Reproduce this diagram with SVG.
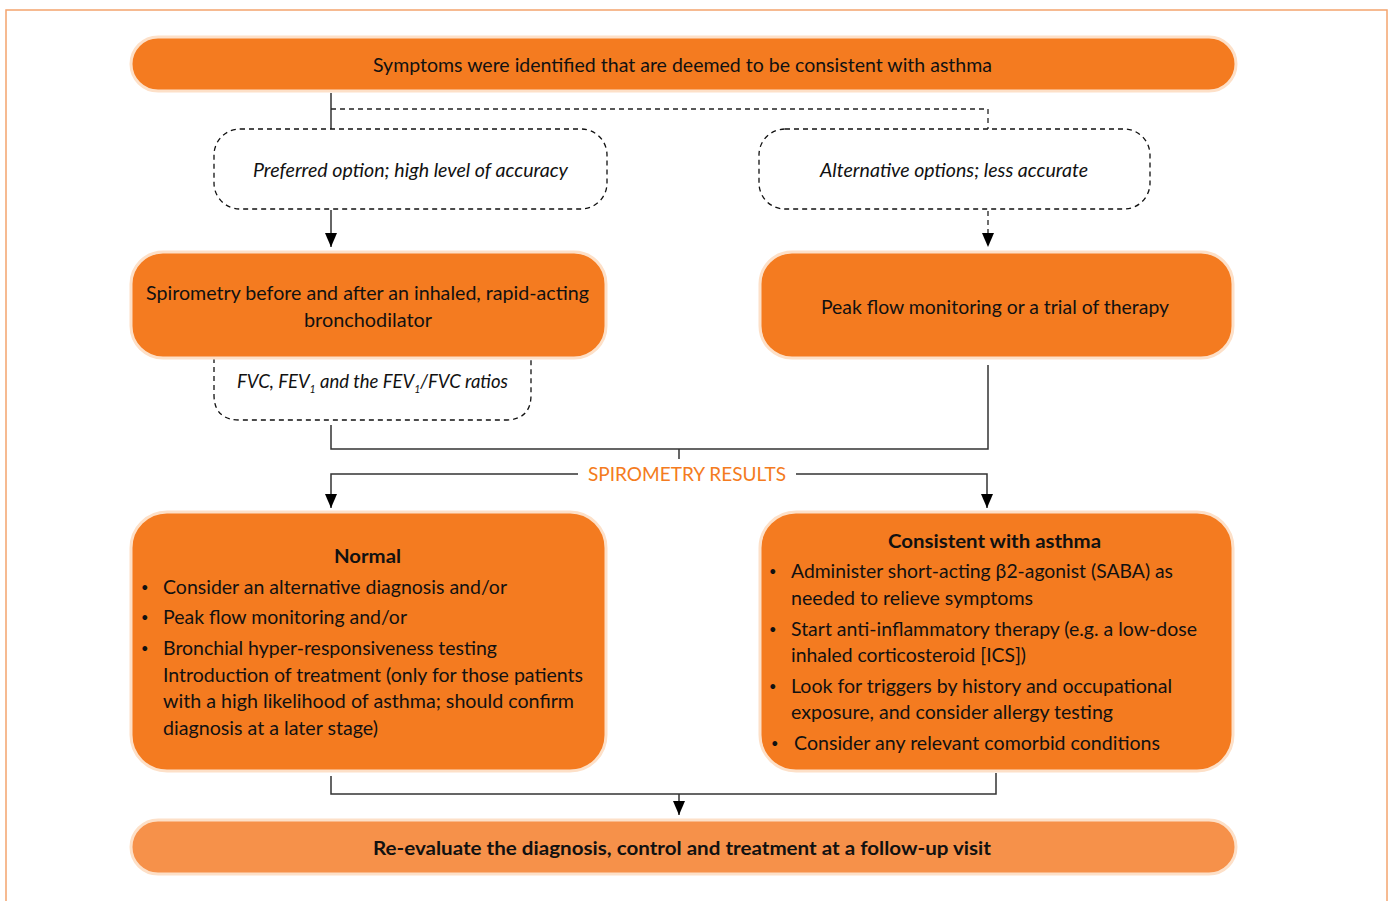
<svg xmlns="http://www.w3.org/2000/svg" width="1390" height="901" viewBox="0 0 1390 901">
<style>
text{font-family:Lato,"Open Sans","Liberation Sans",sans-serif;fill:#111;}
.t{font-size:19px;}
.b{font-size:19px;font-weight:bold;}
.i{font-size:19px;font-style:italic;}
.fv{font-size:18.5px;font-style:italic;}
.bu{font-size:13px;}
.node{fill:#f47b20;stroke:#fde0c8;stroke-width:3;}
.light{fill:#f6914a;stroke:#fde0c8;stroke-width:3;}
.dash{fill:none;stroke:#111;stroke-width:1.3;stroke-dasharray:5,4;}
.ln{fill:none;stroke:#333;stroke-width:1.5;}
.lnd{fill:none;stroke:#222;stroke-width:1.3;stroke-dasharray:5,4;}
.sr{font-size:19px;fill:#f47b20;}
.sub{font-size:10.5px;}
</style>
<defs>
<marker id="ah" markerWidth="14" markerHeight="12" refX="14" refY="6" orient="auto" markerUnits="userSpaceOnUse" viewBox="0 0 14 12">
<path d="M0,0 L14,6 L0,12 Z" fill="#000"/>
</marker>
</defs>
<rect x="6" y="10" width="1381" height="900" fill="none" stroke="#f4a46e" stroke-width="1.5"/>

<g id="connectors">
<line class="ln" x1="331" y1="93" x2="331" y2="129"/>
<path class="lnd" d="M331,109 H988 V129"/>
<line class="ln" x1="331" y1="210" x2="331" y2="247" marker-end="url(#ah)"/>
<line class="lnd" x1="988" y1="211" x2="988" y2="247" marker-end="url(#ah)"/>
<path class="ln" d="M331,425 V449 H988 V365"/>
<line class="ln" x1="679" y1="449" x2="679" y2="459"/>
<path class="ln" d="M578,474 H331 V508" marker-end="url(#ah)"/>
<path class="ln" d="M796,474 H987 V508" marker-end="url(#ah)"/>
<path class="ln" d="M331,776 V794 H996 V773"/>
<line class="ln" x1="679" y1="794" x2="679" y2="815" marker-end="url(#ah)"/>
</g>

<g id="top">
<rect class="node" x="131" y="37" width="1105" height="54" rx="27"/>
<text class="t" x="373" y="72" textLength="619" lengthAdjust="spacingAndGlyphs">Symptoms were identified that are deemed to be consistent with asthma</text>
</g>

<g id="preferred">
<rect class="dash" x="214" y="129" width="393" height="80" rx="26"/>
<text class="i" x="253" y="177" textLength="315" lengthAdjust="spacingAndGlyphs">Preferred option; high level of accuracy</text>
</g>

<g id="alternative">
<rect class="dash" x="759" y="129" width="391" height="80" rx="26"/>
<text class="i" x="820" y="177" textLength="268" lengthAdjust="spacingAndGlyphs">Alternative options; less accurate</text>
</g>

<g id="fvc">
<path class="dash" d="M214,340 V395 Q214,420 240,420 H505 Q531,420 531,395 V340"/>
<text class="fv" x="237" y="388">FVC, FEV<tspan class="sub" dy="5">1</tspan><tspan dy="-5"> and the FEV</tspan><tspan class="sub" dy="5">1</tspan><tspan dy="-5">/FVC ratios</tspan></text>
</g>

<g id="spirometry">
<rect class="node" x="131" y="252" width="475" height="106" rx="32"/>
<text class="t" x="146" y="300" textLength="443" lengthAdjust="spacingAndGlyphs">Spirometry before and after an inhaled, rapid-acting</text>
<text class="t" x="304" y="327" textLength="128" lengthAdjust="spacingAndGlyphs">bronchodilator</text>
</g>

<g id="peakflow">
<rect class="node" x="760" y="252" width="473" height="106" rx="32"/>
<text class="t" x="821" y="314" textLength="348" lengthAdjust="spacingAndGlyphs">Peak flow monitoring or a trial of therapy</text>
</g>

<g id="results-label">
<text class="sr" x="588" y="481" textLength="198" lengthAdjust="spacingAndGlyphs">SPIROMETRY RESULTS</text>
</g>

<g id="normal">
<rect class="node" x="131" y="512" width="475" height="259" rx="36"/>
<text class="b" x="334" y="563" textLength="67" lengthAdjust="spacingAndGlyphs">Normal</text>
<text class="bu" x="141" y="592">•</text>
<text class="t" x="163" y="594" textLength="344" lengthAdjust="spacingAndGlyphs">Consider an alternative diagnosis and/or</text>
<text class="bu" x="141" y="622">•</text>
<text class="t" x="163" y="624" textLength="244" lengthAdjust="spacingAndGlyphs">Peak flow monitoring and/or</text>
<text class="bu" x="141" y="653">•</text>
<text class="t" x="163" y="655" textLength="334" lengthAdjust="spacingAndGlyphs">Bronchial hyper-responsiveness testing</text>
<text class="t" x="163" y="682" textLength="420" lengthAdjust="spacingAndGlyphs">Introduction of treatment (only for those patients</text>
<text class="t" x="163" y="708" textLength="411" lengthAdjust="spacingAndGlyphs">with a high likelihood of asthma; should confirm</text>
<text class="t" x="163" y="735" textLength="215" lengthAdjust="spacingAndGlyphs">diagnosis at a later stage)</text>
</g>

<g id="consistent">
<rect class="node" x="760" y="512" width="473" height="259" rx="36"/>
<text class="b" x="888" y="548" textLength="213" lengthAdjust="spacingAndGlyphs">Consistent with asthma</text>
<text class="bu" x="769" y="576">•</text>
<text class="t" x="791" y="578" textLength="382" lengthAdjust="spacingAndGlyphs">Administer short-acting β2-agonist (SABA) as</text>
<text class="t" x="791" y="605" textLength="242" lengthAdjust="spacingAndGlyphs">needed to relieve symptoms</text>
<text class="bu" x="769" y="634">•</text>
<text class="t" x="791" y="636" textLength="406" lengthAdjust="spacingAndGlyphs">Start anti-inflammatory therapy (e.g. a low-dose</text>
<text class="t" x="791" y="662" textLength="235" lengthAdjust="spacingAndGlyphs">inhaled corticosteroid [ICS])</text>
<text class="bu" x="769" y="691">•</text>
<text class="t" x="791" y="693" textLength="381" lengthAdjust="spacingAndGlyphs">Look for triggers by history and occupational</text>
<text class="t" x="791" y="719" textLength="322" lengthAdjust="spacingAndGlyphs">exposure, and consider allergy testing</text>
<text class="bu" x="771" y="748">•</text>
<text class="t" x="794" y="750" textLength="366" lengthAdjust="spacingAndGlyphs">Consider any relevant comorbid conditions</text>
</g>

<g id="reevaluate">
<rect class="light" x="131" y="820" width="1105" height="54" rx="27"/>
<text class="b" x="373" y="855" textLength="618" lengthAdjust="spacingAndGlyphs">Re-evaluate the diagnosis, control and treatment at a follow-up visit</text>
</g>
</svg>
